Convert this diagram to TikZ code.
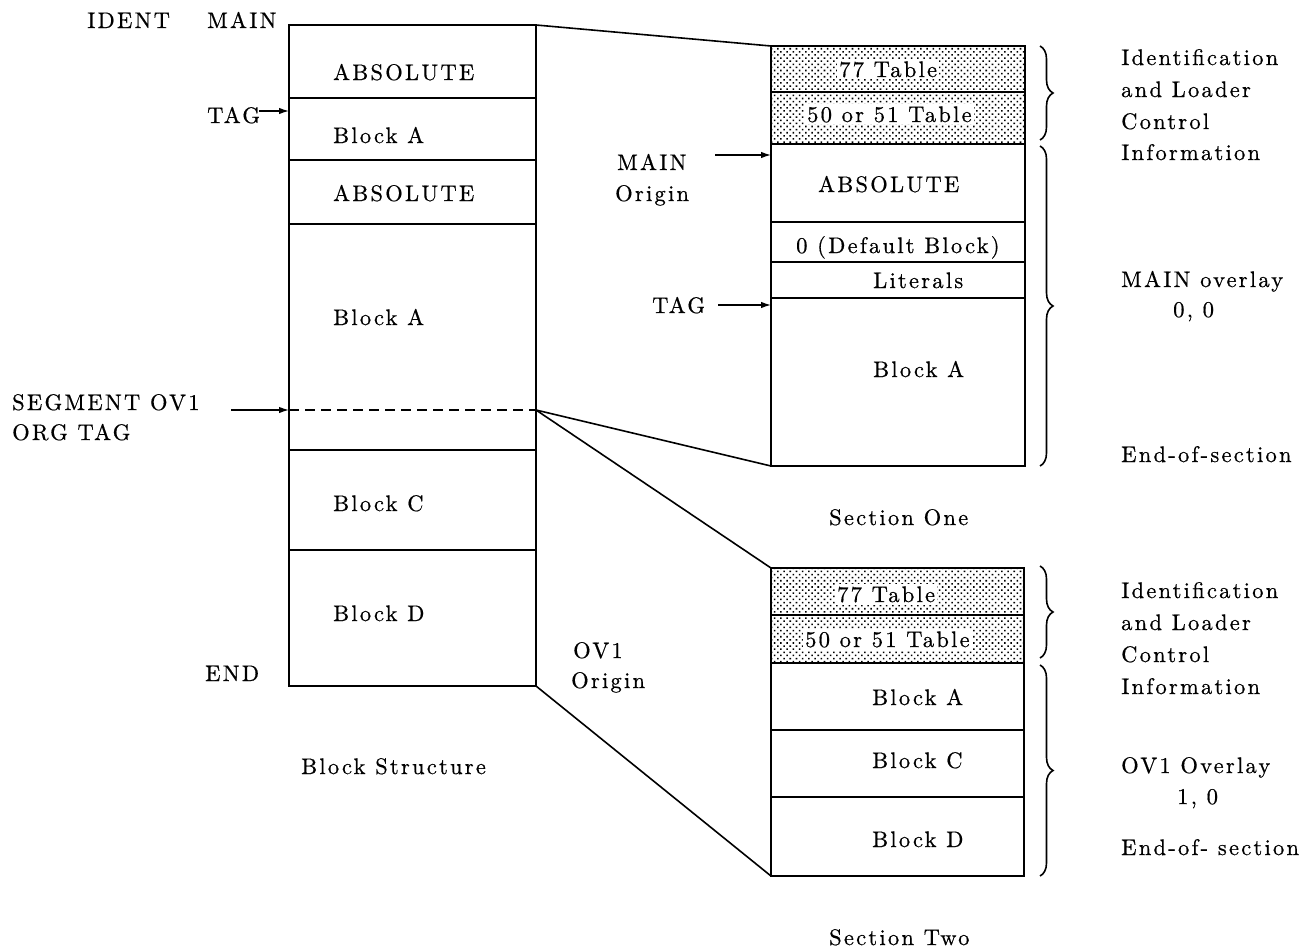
\documentclass[tikz,border=0pt]{standalone}
\usepackage{fontspec}
\setmainfont{lmroman10-regular}[Extension=.otf, LetterSpace=10, FakeBold=0.6]
\usetikzlibrary{patterns.meta,decorations.pathreplacing,arrows.meta}
\begin{document}
\begin{tikzpicture}[x=1pt,y=-1pt,
  cell/.style 2 args={draw, line width=1.8pt, anchor=north west, inner sep=0pt, outer sep=0pt, minimum width=#1pt, minimum height=#2pt},
  dotted cell/.style={pattern={Dots[distance=4.4pt, angle=45, radius=1.1pt]}},
  txt/.style={font=\fontsize{22.5}{27}\selectfont, inner sep=0pt, anchor=base west},
  wtxt/.style={txt, fill=white, inner xsep=2pt, inner ysep=2pt},
  conn/.style={line width=1.6pt},
  arr/.style={line width=1.3pt, -{Latex[length=10pt,width=6.5pt]}},
  brc/.style={line width=1.6pt, decorate, decoration={brace, amplitude=13pt}}]
\useasboundingbox (0,0) rectangle (1316,951);

% ---------- Block structure ----------
\node[cell={247}{73}]  (L1) at (289,25)  {};
\node[cell={247}{62}]  (L2) at (289,98)  {};
\node[cell={247}{64}]  (L3) at (289,160) {};
\node[cell={247}{226}] (L4) at (289,224) {};
\node[cell={247}{100}] (L6) at (289,450) {};
\node[cell={247}{136}] (L7) at (289,550) {};
\coordinate (dashL) at (289,410);
\coordinate (dashR) at (536,410);
\draw[line width=1.6pt, dash pattern=on 10pt off 6pt] (dashL) -- (dashR);

\node[txt] (tL1) at (333,80)  {ABSOLUTE};
\node[txt] (tL2) at (333,143) {Block A};
\node[txt] (tL3) at (333,201) {ABSOLUTE};
\node[txt] (tL4) at (333,325) {Block A};
\node[txt] (tL6) at (333,511) {Block C};
\node[txt] (tL7) at (333,621) {Block D};

\node[txt] (ident) at (87,28) {IDENT};
\node[txt] (main)  at (207,28) {MAIN};
\node[txt] (tag1)  at (207,123) {TAG};
\coordinate (tag1a) at (259,111);
\draw[arr] (tag1a) -- (tag1a -| L2.west);
\node[txt] (seg) at (12,410) {SEGMENT OV1};
\node[txt] (org) at (12,440) {ORG TAG};
\coordinate (sega) at (231,410);
\draw[arr] (sega) -- (dashL);
\node[txt] (endl) at (205,681) {END};
\node[txt] (bs) at (301,774) {Block Structure};

% ---------- Section One ----------
\node[cell={254}{46}, dotted cell]  (A77) at (771,46)  {};
\node[cell={254}{52}, dotted cell]  (A50) at (771,92)  {};
\node[cell={254}{78}]  (AAbs) at (771,144) {};
\node[cell={254}{40}]  (ADef) at (771,222) {};
\node[cell={254}{36}]  (ALit) at (771,262) {};
\node[cell={254}{168}] (ABlk) at (771,298) {};

\node[wtxt] (tA77) at (837,77)  {77 Table};
\node[wtxt] (tA50) at (805,122) {50 or 51 Table};
\node[txt] (tAAbs) at (818,192) {ABSOLUTE};
\node[txt] (tADef) at (796,253) {0 (Default Block)};
\node[txt] (tALit) at (873,288) {Literals};
\node[txt] (tABlk) at (873,377) {Block A};

\node[txt] (mo1) at (617,170) {MAIN};
\node[txt] (mo2) at (615,201) {Origin};
\coordinate (moa) at (715,155);
\draw[arr] (moa) -- (moa -| AAbs.west);
\node[txt] (tag2) at (652,313) {TAG};
\coordinate (tag2a) at (718,305);
\draw[arr] (tag2a) -- (tag2a -| ABlk.west);
\node[txt] (s1) at (829,525) {Section One};

\draw[brc] (1040,46) -- (1040,140);
\draw[brc] (1040,146) -- (1040,466);
\node[txt] (r1) at (1121,65)  {Identification};
\node[txt] (r2) at (1121,97)  {and Loader};
\node[txt] (r3) at (1121,129) {Control};
\node[txt] (r4) at (1121,160) {Information};
\node[txt] (r5) at (1121,287) {MAIN overlay};
\node[txt] (r6) at (1173,317) {0, 0};
\node[txt] (r7) at (1121,462) {End-of-section};

% ---------- Section Two ----------
\node[cell={253}{47}, dotted cell] (B77) at (771,568) {};
\node[cell={253}{48}, dotted cell] (B50) at (771,615) {};
\node[cell={253}{67}] (BA) at (771,663) {};
\node[cell={253}{67}] (BC) at (771,730) {};
\node[cell={253}{79}] (BD) at (771,797) {};

\node[wtxt] (tB77) at (835,602) {77 Table};
\node[wtxt] (tB50) at (803,647) {50 or 51 Table};
\node[txt] (tBA) at (872,705) {Block A};
\node[txt] (tBC) at (872,768) {Block C};
\node[txt] (tBD) at (872,847) {Block D};

\node[txt] (ov1) at (573,658) {OV1};
\node[txt] (ov2) at (571,688) {Origin};
\node[txt] (s2) at (829,945) {Section Two};

\draw[brc] (1040,566) -- (1040,658);
\draw[brc] (1040,665) -- (1040,876);
\node[txt] (q1) at (1121,598) {Identification};
\node[txt] (q2) at (1121,630) {and Loader};
\node[txt] (q3) at (1121,662) {Control};
\node[txt] (q4) at (1121,694) {Information};
\node[txt] (q5) at (1121,773) {OV1 Overlay};
\node[txt] (q6) at (1177,804) {1, 0};
\node[txt] (q7) at (1121,855) {End-of- section};

% ---------- connectors ----------
\draw[conn] (L1.north east) -- (A77.north west);
\draw[conn] (dashR) -- (ABlk.south west);
\draw[conn] (dashR) -- (B77.north west);
\draw[conn] (L7.south east) -- (BD.south west);
\end{tikzpicture}
\end{document}
